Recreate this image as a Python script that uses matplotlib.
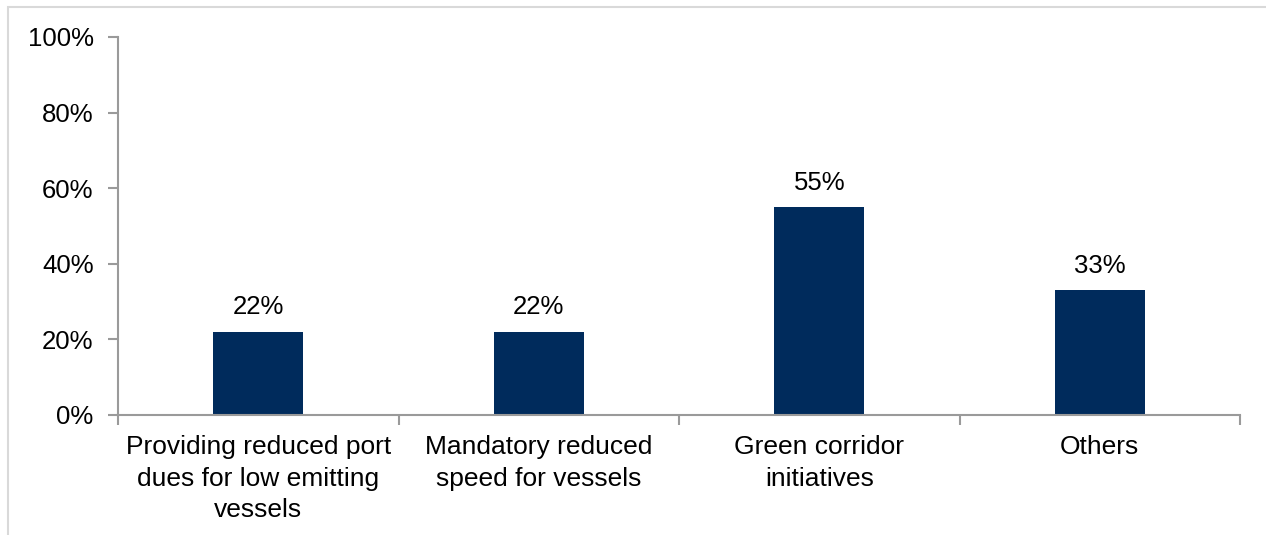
import matplotlib.pyplot as plt
from matplotlib.patches import Rectangle
from matplotlib.ticker import FixedLocator, NullFormatter, PercentFormatter

categories = ["Providing reduced port\ndues for low emitting\nvessels",
              "Mandatory reduced\nspeed for vessels",
              "Green corridor\ninitiatives",
              "Others"]
values = [22, 22, 55, 33]
yticks = [0, 20, 40, 60, 80, 100]

plt.rcParams['font.family'] = ['Liberation Sans', 'DejaVu Sans']
bar_color = '#002B5C'
axis_color = '#9a9a9a'

fig = plt.figure(figsize=(12.66, 5.35), dpi=100)
# light frame around the chart area
fig.patches.append(Rectangle((8 / 1266, -0.1), 1.1, 1.1 - 7 / 535,
                             transform=fig.transFigure, fill=False,
                             edgecolor='#d9d9d9', linewidth=1.5))
ax = fig.add_axes([118 / 1266, 1 - 415 / 535, (1240 - 118) / 1266, (415 - 37) / 535])

x = list(range(len(categories)))
bars = ax.bar(x, values, width=0.32, color=bar_color)
for b, v in zip(bars, values):
    ax.annotate(f"{v}%", (b.get_x() + b.get_width() / 2, v),
                xytext=(0, 9), textcoords='offset points',
                ha='center', va='bottom', fontsize=18.5)

ax.set_xlim(-0.5, len(categories) - 0.5)
ax.set_ylim(0, 100)
ax.set_yticks(yticks)
ax.yaxis.set_major_formatter(PercentFormatter(decimals=0))

# category labels between the boundary ticks
ax.xaxis.set_major_locator(FixedLocator([i - 0.5 for i in range(len(categories) + 1)]))
ax.xaxis.set_major_formatter(NullFormatter())
for i, c in enumerate(categories):
    ax.text(i, -5.3, c, ha='center', va='top', fontsize=19,
            linespacing=1.4, transform=ax.transData)

for s in ['top', 'right']:
    ax.spines[s].set_visible(False)
for s in ['left', 'bottom']:
    ax.spines[s].set_color(axis_color)
    ax.spines[s].set_linewidth(1.5)
ax.tick_params(axis='both', colors=axis_color, width=1.5, length=7,
               labelcolor='black', labelsize=18.5)
ax.tick_params(axis='y', pad=10.5)

fig.savefig('out.png', dpi=100)
